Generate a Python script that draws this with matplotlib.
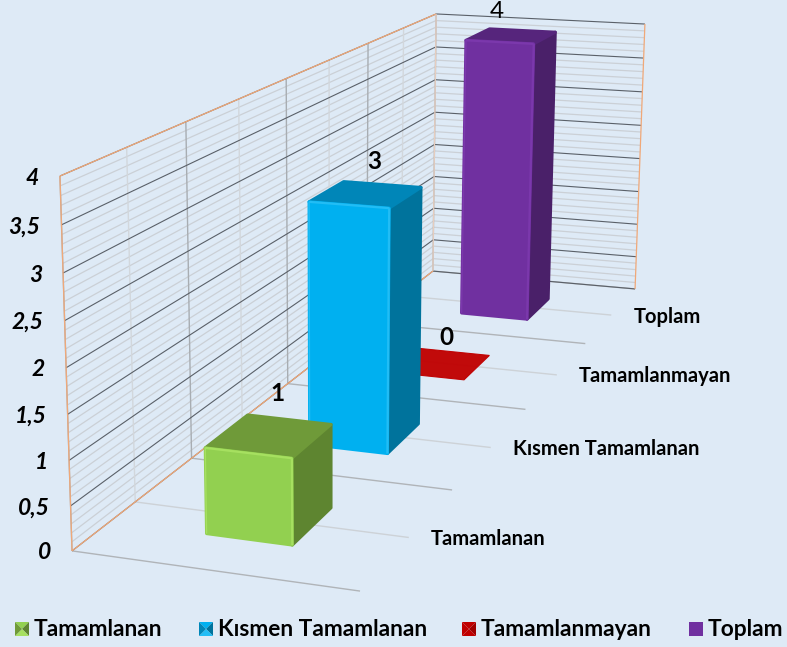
import numpy as np
import matplotlib
matplotlib.use("Agg")
import matplotlib.pyplot as plt
from matplotlib.patches import Polygon

categories = ["Tamamlanan", "Kısmen Tamamlanan", "Tamamlanmayan", "Toplam"]
values = [1, 3, 0, 4]
value_ticks = [0, 0.5, 1, 1.5, 2, 2.5, 3, 3.5, 4]
value_tick_labels = ["0", "0,5", "1", "1,5", "2", "2,5", "3", "3,5", "4"]

front_colors = ["#92D050", "#00B0F0", "#C00000", "#7030A0"]
top_colors = ["#6F9A39", "#0086B8", "#C00000", "#56257C"]
side_colors = ["#5E8530", "#00739C", "#A00000", "#4A2069"]
edge_colors = ["#A6E060", "#22BDF5", "#C00000", "#7B38AC"]

BG = "#DEEAF6"
ORANGE = "#F0A878"
FONT = "Lato"

# camera calibration: frame corners (across, depth, value) -> image pixels
frame_corners = [(0, 0, 0), (1, 0, 0), (0, 4, 0), (1, 4, 0), (0, 0, 4), (0, 4, 4), (1, 4, 4)]
frame_pixels = [(72, 551), (360, 591), (433, 271), (635, 289), (60, 176), (436, 14), (645, 24)]


def solve_camera(corners, pixels):
    rows = []
    rhs = []
    for (u, d, z), (px, py) in zip(corners, pixels):
        rows.append([u, d, z, 1, 0, 0, 0, 0, -px * u, -px * d, -px * z])
        rows.append([0, 0, 0, 0, u, d, z, 1, -py * u, -py * d, -py * z])
        rhs += [px, py]
    sol = np.linalg.lstsq(np.array(rows, float), np.array(rhs, float), rcond=None)[0]
    return np.append(sol, 1).reshape(3, 4)


CAM = solve_camera(frame_corners, frame_pixels)


def project(u, d, z):
    p = CAM @ np.array([u, d, z, 1.0])
    return p[0] / p[2], p[1] / p[2]


def line3d(ax, a, b, color, lw, z=1):
    pa, pb = project(*a), project(*b)
    ax.plot([pa[0], pb[0]], [pa[1], pb[1]], color=color, lw=lw, zorder=z, solid_capstyle="butt")


def face(ax, pts, color, z, lw=2.2):
    xy = [project(*p) for p in pts]
    ax.add_patch(Polygon(xy, closed=True, facecolor=color, edgecolor=color, lw=lw,
                         joinstyle="round", zorder=z))


def draw_walls(ax):
    # minor then major value lines on both walls
    for v in np.arange(0, 4.01, 0.1):
        major = abs(v / 0.5 - round(v / 0.5)) < 1e-6
        col = "#5A6068" if major else "#CBD0D6"
        lw = 0.8 if major else 0.9
        zo = 2 if major else 1
        line3d(ax, (0, 0, v), (0, 4, v), col, lw, zo)
        line3d(ax, (0, 4, v), (1, 4, v), col, lw, zo)
    # depth lines on the left wall and floor
    for d in np.arange(0, 4.01, 0.5):
        major = abs(d - round(d)) < 1e-6
        line3d(ax, (0, d, 0), (0, d, 4), "#A8ADB2" if major else "#D2D7DC", 1.0, 1.5)
        line3d(ax, (0, d, 0), (1, d, 0), "#B0B4B8" if major else "#CDD2D7", 1.0, 1.5)
    line3d(ax, (0, 0, 0), (0, 0, 4), ORANGE, 0.9, 3)
    line3d(ax, (0, 0, 4), (0, 4, 4), ORANGE, 0.9, 3)
    line3d(ax, (0, 0, 0), (0, 4, 0), ORANGE, 0.9, 3)
    line3d(ax, (1, 4, 0), (1, 4, 4), ORANGE, 0.9, 3)
    line3d(ax, (0, 4, 0), (0, 4, 4), "#E6CDBE", 0.9, 3)


def draw_bar(ax, i, val, z):
    u0, u1 = 0.353, 0.66
    d0, d1 = i + 0.3, i + 0.68
    if val == 0:
        xy = [project(u0, d0, 0), project(u1, d0, 0), project(u1, d1, 0), project(u0, d1, 0)]
        ax.add_patch(Polygon(xy, closed=True, facecolor=top_colors[i], edgecolor=top_colors[i],
                             lw=0.8, alpha=0.96, zorder=z))
        return
    # corners are rounded off a little in the source render, so the tops sit just under the value
    top = val - 0.035
    face(ax, [(u1, d0, 0), (u1, d1, 0), (u1, d1, top), (u1, d0, top)], side_colors[i], z)
    face(ax, [(u0, d0, top), (u1, d0, top), (u1, d1, top), (u0, d1, top)], top_colors[i], z)
    face(ax, [(u0, d0, 0), (u1, d0, 0), (u1, d0, top), (u0, d0, top)], front_colors[i], z + 0.1)
    # soft bevel on the front edges
    line3d(ax, (u0, d0, top), (u1, d0, top), edge_colors[i], 1.6, z + 0.2)
    line3d(ax, (u1, d0, 0), (u1, d0, top), edge_colors[i], 1.6, z + 0.2)
    line3d(ax, (u0, d0, 0), (u0, d0, top), edge_colors[i], 1.0, z + 0.2)


def legend_key(ax, x, y, i, size=14):
    c = (x + size / 2, y + size / 2)
    tl, tr, br, bl = (x, y), (x + size, y), (x + size, y + size), (x, y + size)
    if i == 3:
        ax.add_patch(Polygon([tl, tr, br, bl], facecolor=front_colors[i], edgecolor="none", zorder=6))
        return
    shades = [front_colors[i], side_colors[i], edge_colors[i], top_colors[i]]
    for tri, col in zip([(tl, tr), (tr, br), (br, bl), (bl, tl)], shades):
        ax.add_patch(Polygon([tri[0], tri[1], c], facecolor=col, edgecolor="none", zorder=6))


def main():
    fig = plt.figure(figsize=(7.87, 6.47), dpi=100, facecolor=BG)
    ax = fig.add_axes([0, 0, 1, 1])
    ax.set_xlim(0, 787)
    ax.set_ylim(647, 0)
    ax.axis("off")

    draw_walls(ax)

    for i in [3, 2, 1, 0]:
        draw_bar(ax, i, values[i], 10 + (3 - i))

    for v, lab in zip(value_ticks, value_tick_labels):
        x, y = project(0, 0, v)
        ax.text(x - 21, y + 2, lab, ha="right", va="center", fontsize=16.5,
                fontweight="bold", fontstyle="italic", family=FONT, color="black", zorder=20)

    for i, cat in enumerate(categories):
        x, y = project(1, i + 0.5, 0)
        ax.text(x + 22, y + 1.5, cat, ha="left", va="center", fontsize=14.5,
                fontweight="bold", family=FONT, color="black", zorder=20)

    # data labels sit above the back edge of each bar
    label_shift = [(-12, -21), (-8, -19), (-8, -13), (-25, -16)]
    for i, val in enumerate(values):
        x, y = project(0.5, i + 0.7, val)
        dx, dy = label_shift[i]
        ax.text(x + dx, y + dy, str(val), ha="center", va="center", fontsize=17.5,
                fontweight="normal" if i == 3 else "bold", family=FONT, color="black", zorder=20)

    key_x = [15, 199, 462, 689]
    text_x = [34, 218, 481, 708]
    for i, cat in enumerate(categories):
        legend_key(ax, key_x[i], 622, i)
        ax.text(text_x[i], 630, cat, ha="left", va="center", fontsize=16.4,
                fontweight="bold", family=FONT, color="black", zorder=20)

    fig.savefig("out.png", dpi=100, facecolor=BG)
    plt.close(fig)


if __name__ == "__main__":
    main()
